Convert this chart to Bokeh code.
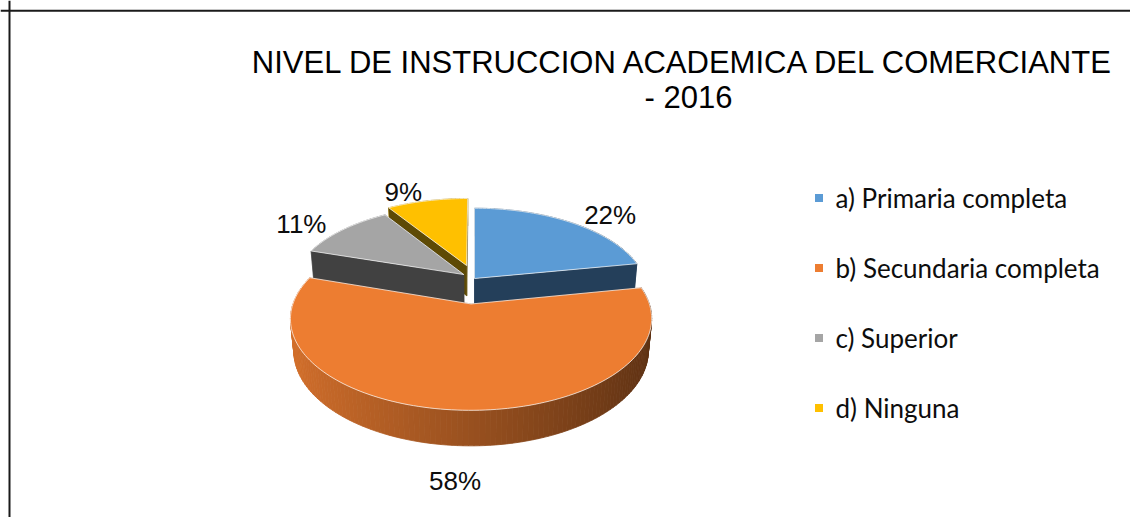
import numpy as np
from bokeh.plotting import figure
from bokeh.models import Range1d, Span, ColumnDataSource
from bokeh.embed import file_html
from bokeh.resources import INLINE
from bokeh.core.properties import value

# ---------------- data ----------------
categories = ["a) Primaria completa", "b) Secundaria completa", "c) Superior", "d) Ninguna"]
percents = [22, 58, 11, 9]
pct_labels = ["22%", "58%", "11%", "9%"]
title_lines = ["NIVEL DE INSTRUCCION  ACADEMICA DEL COMERCIANTE", "- 2016"]

# ---------------- style ----------------
top_colors = ["#5B9BD5", "#ED7D31", "#A5A5A5", "#FFC000"]
cut_colors = ["#243F5A", "#7A3F17", "#414141", "#5E4A05"]
explode = [0.0, 0.30, 0.08, 0.17]

W, H = 1130, 517
CX, CY = 474.0, 278.0      # pie centre (page pixels)
S = 170.0                  # radius scale
PHI = np.radians(28.5)     # elevation
DIST = 5.7                 # perspective distance
THICK = 0.21               # pie thickness
RL = 1.15                  # label radius
sp, cp = np.sin(PHI), np.cos(PHI)


def proj(x, y, z):
    x = np.asarray(x, float)
    y = np.asarray(y, float)
    z = np.asarray(z, float)
    yup = y * sp + z * cp
    depth = y * cp - z * sp
    s = DIST / (DIST + depth)
    return CX + S * x * s, CY - S * yup * s, depth


def hex2rgb(h):
    h = h.lstrip("#")
    return [int(h[k:k + 2], 16) for k in (0, 2, 4)]


def shade(h, f):
    r, g, b = hex2rgb(h)
    return "#%02x%02x%02x" % tuple(int(max(0, min(255, c * f))) for c in (r, g, b))


fig = figure(width=W, height=H, x_range=Range1d(0, W), y_range=Range1d(H, 0),
             output_backend="svg", toolbar_location=None, min_border=0,
             x_axis_location=None, y_axis_location=None,
             background_fill_color="white", border_fill_color="white",
             outline_line_color=None)
fig.grid.visible = False

# chart border (left and top edges visible)
fig.add_layout(Span(location=9, dimension="height", line_color="#1a1a1a", line_width=2))
fig.add_layout(Span(location=10.3, dimension="width", line_color="#1a1a1a", line_width=2))

# ---------------- pie geometry ----------------
fr = np.array(percents, float) / sum(percents)
starts = 90 - 360 * np.concatenate([[0], np.cumsum(fr)[:-1]])
ends = starts - 360 * fr
mids = (starts + ends) / 2

slices = []
for i in range(len(percents)):
    m = np.radians(mids[i])
    ox, oy = explode[i] * np.cos(m), explode[i] * np.sin(m)
    n = max(8, int(abs(starts[i] - ends[i]) / 1.5))
    th = np.radians(np.linspace(starts[i], ends[i], n))
    ax, ay = ox + np.cos(th), oy + np.sin(th)
    faces = []
    # outer side strips
    for k in range(n - 1):
        qx = [ax[k], ax[k + 1], ax[k + 1], ax[k]]
        qy = [ay[k], ay[k + 1], ay[k + 1], ay[k]]
        qz = [0, 0, -THICK, -THICK]
        X, Y, D = proj(qx, qy, qz)
        tm = (th[k] + th[k + 1]) / 2
        f = 0.39 + 0.51 * (1 - np.cos(tm)) / 2
        col = shade(top_colors[i], f)
        faces.append((D.mean(), list(X), list(Y), col, col, 0.8, 1.0))
    # radial cut faces
    for a in (th[0], th[-1]):
        qx = [ox, ox + np.cos(a), ox + np.cos(a), ox]
        qy = [oy, oy + np.sin(a), oy + np.sin(a), oy]
        qz = [0, 0, -THICK, -THICK]
        X, Y, D = proj(qx, qy, qz)
        faces.append((D.mean(), list(X), list(Y), cut_colors[i], cut_colors[i], 0.5, 1.0))
    faces.sort(key=lambda t: -t[0])
    # top face
    X, Y, D = proj(np.concatenate([[ox], ax]), np.concatenate([[oy], ay]), np.zeros(n + 1))
    faces.append((0, list(X), list(Y), top_colors[i], "#ffffff", 1.0, 0.7))
    order_key = oy + 0.5 * np.sin(m)
    slices.append((order_key, i, faces, ox, oy, m))

slices.sort(key=lambda t: -t[0])
for _, i, faces, ox, oy, m in slices:
    src = ColumnDataSource(dict(
        xs=[f[1] for f in faces], ys=[f[2] for f in faces],
        fill=[f[3] for f in faces], line=[f[4] for f in faces],
        lw=[f[5] for f in faces], la=[f[6] for f in faces]))
    fig.patches("xs", "ys", source=src, fill_color="fill", line_color="line",
                line_width="lw", line_alpha="la")

# ---------------- data labels ----------------
for _, i, faces, ox, oy, m in slices:
    z = 0.0 if np.sin(m) >= 0 else -THICK
    X, Y, D = proj(ox + RL * np.cos(m), oy + RL * np.sin(m), z)
    c, s_ = np.cos(m), np.sin(m)
    if c > 0.2:
        al, bl = "left", "middle"
    elif c < -0.2:
        al, bl = "right", "middle"
    else:
        al, bl = "center", ("bottom" if s_ > 0 else "top")
    fig.text(x=[float(X)], y=[float(Y)], text=[pct_labels[i]],
             text_font=value("Liberation Sans"), text_font_size="26px",
             text_color="#0d0d0d", text_align=al, text_baseline=bl)

# ---------------- title ----------------
fig.text(x=[688, 688], y=[62, 97], text=title_lines,
         text_font=value("Liberation Sans"), text_font_size="31px",
         text_color="#000000", text_align="center", text_baseline="alphabetic")

# ---------------- legend ----------------
leg_y = [197.5 + 70 * k for k in range(len(categories))]
fig.scatter(x=[818.5] * len(categories), y=leg_y, marker="square", size=8,
            fill_color=top_colors, line_color=None)
fig.text(x=[835] * len(categories), y=leg_y, text=categories,
         text_font=value("Lato"), text_font_size="26px", text_color="#0d0d0d",
         text_align="left", text_baseline="middle")

open("out.html", "w").write(file_html(fig, INLINE))
